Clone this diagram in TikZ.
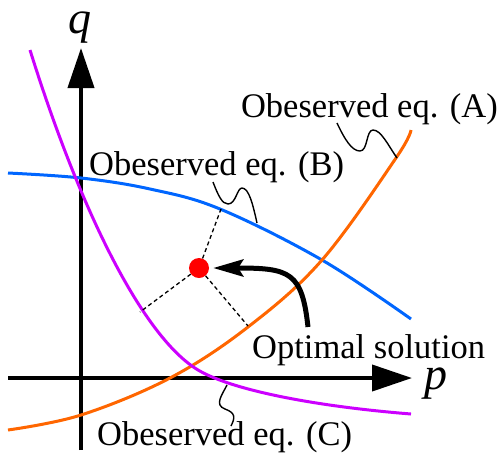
\documentclass[tikz,border=0pt]{standalone}
\usepackage{fontspec}
\setmainfont{Liberation Serif}
\usetikzlibrary{arrows.meta}
\definecolor{cblue}{HTML}{0066FF}
\definecolor{corange}{HTML}{FF6600}
\definecolor{cpurple}{HTML}{CC00FF}
\begin{document}
\begin{tikzpicture}[x=1pt,y=-1pt,
  axis/.style={line width=4pt,-{Triangle[length=40pt,width=26pt]}},
  curveline/.style={line width=3pt},
  leader/.style={line width=1.4pt},
  perp/.style={line width=1.3pt,dash pattern=on 4pt off 3pt},
  lbl/.style={inner sep=0pt,font=\fontsize{34.5}{40}\selectfont},
  axlbl/.style={inner sep=0pt,text height=21pt,text depth=10pt,font=\fontsize{46}{52}\selectfont\itshape}]
\useasboundingbox (0,0) rectangle (501,459);
% axes
\coordinate (qbot) at (81,450);
\coordinate (qtop) at (81,48);
\coordinate (pleft) at (8,378);
\coordinate (pright) at (412,378);
\draw[axis] (qbot) -- (qtop);
\draw[axis] (pleft) -- (pright);
\node[axlbl,anchor=base] (qlab) at (80,33) {q};
\node[axlbl,anchor=base] (plab) at (436,389) {p};
% curves
\draw[curveline,cblue] plot[smooth,tension=0.6] coordinates {(8,173) (81,178) (150,189) (220,209) (322,260) (411,319)};
\draw[curveline,corange] plot[smooth,tension=0.6] coordinates {(8,430) (81,415) (170,378) (248,327) (322,260) (396,158) (411,130)};
\draw[curveline,cpurple] (30,50) .. controls (80,210) and (140,329) .. (192,366)
  .. controls (222,388.5) and (311,406) .. (411,414);
% optimal point
\node[circle,fill=red,inner sep=0pt,minimum size=20pt] (dot) at (199,268) {};
\coordinate (footB) at (221,209);
\coordinate (footC) at (140,312);
\coordinate (footA) at (248,326);
\draw[perp] (dot) -- (footB);
\draw[perp] (dot) -- (footC);
\draw[perp] (dot) -- (footA);
% labels
\node[lbl,anchor=base east] (labA) at (498,117) {Obeserved eq. (A)};
\node[lbl,anchor=base west] (labB) at (89,175) {Obeserved eq. (B)};
\node[lbl,anchor=base west] (labC) at (97,445) {Obeserved eq. (C)};
\node[lbl,anchor=base west] (labO) at (252,358) {Optimal solution};
% arrow to optimal point
\coordinate (arrstart) at (308,327);
\draw[line width=5pt,-{Stealth[length=30pt,width=17pt,inset=5pt]},shorten >=4pt]
  (arrstart) .. controls (302,272) and (290,268) .. (dot);
% leaders
\coordinate (sA) at (337,123);
\coordinate (eA) at (397,158);
\draw[leader] (sA) .. controls (345,140) and (352,151) .. (360,151)
  .. controls (368,151) and (366,130) .. (373,130)
  .. controls (381,130) and (388,145) .. (eA);
\coordinate (sB) at (213,182);
\coordinate (eB) at (257,223);
\draw[leader] (sB) .. controls (218,195) and (222,204) .. (228,204)
  .. controls (236,204) and (237,188) .. (242,188)
  .. controls (249,188) and (253,205) .. (eB);
\coordinate (sC) at (227,385);
\coordinate (eC) at (231,426);
\draw[leader] (sC) .. controls (222,395) and (214,405) .. (225,409)
  .. controls (236,413) and (235,418) .. (eC);
\end{tikzpicture}
\end{document}
